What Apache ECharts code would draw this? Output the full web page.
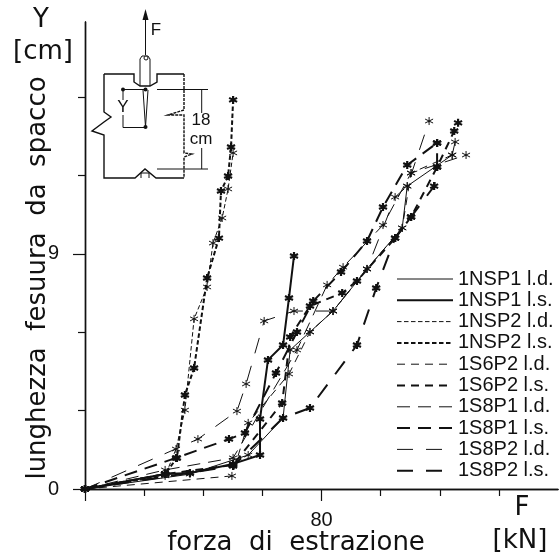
<!DOCTYPE html>
<html>
<head>
<meta charset="utf-8">
<style>
  html, body { margin: 0; padding: 0; background: #fff; }
  #chart { width: 560px; height: 556px; }
</style>
<script src="https://cdn.jsdelivr.net/npm/echarts@6/dist/echarts.min.js"></script>
</head>
<body>
<div id="chart"></div>
<script>
// [forza kN, Y cm]
const nsp1Ld = [[0,0],[35.5,0.57],[55.2,1.30],[67.0,2.72],[69.4,5.32],[76.1,6.01],[83.9,6.81],[95.4,8.42],[107.3,9.99],[109.0,11.59],[124.2,12.78],[125.2,13.28]];
const nsp1Ls = [[0,0],[27.1,0.57],[35.5,0.61],[50.1,0.96],[59.2,1.30],[59.2,2.68],[61.9,4.94],[67.0,5.51],[69.0,7.31],[70.7,8.92]];
const nsp2Ld = [[0,0],[27.1,0.50],[30.8,1.53],[33.8,3.02],[36.9,6.51],[41.3,7.73],[43.3,9.41],[46.4,10.37],[48.4,11.48],[50.1,12.86]];
const nsp2Ls = [[0,0],[27.1,0.57],[31.1,1.19],[33.8,3.60],[36.9,4.63],[41.3,8.07],[45.3,9.60],[46.0,11.40],[48.4,11.98],[49.4,13.09],[50.1,14.89]];
const s6p2Ld = [[0,0],[49.7,0.50],[55.2,2.53],[69.0,4.40],[76.1,6.01],[83.9,6.81],[95.4,8.42],[107.3,9.99],[110.3,12.09],[124.2,12.78]];
const s6p2Ls = [[0,0],[27.1,0.57],[50.1,0.92],[66.7,3.29],[69.4,5.82],[76.1,7.00],[87.0,7.50],[92.0,7.96],[104.9,9.60],[110.3,10.41],[119.1,12.32],[124.9,13.70],[126.2,14.01]];
const s8p1Ld = [[0,0],[27.1,0.73],[50.1,1.19],[71.7,5.32],[81.9,7.81],[87.3,8.49],[100.8,10.10],[110.3,12.09],[128.9,12.78]];
const s8p1Ls = [[0,0],[30.8,1.19],[48.7,1.91],[54.1,2.14],[64.6,4.44],[71.7,6.01],[77.2,7.19],[86.6,8.30],[95.4,9.49],[100.8,10.79],[109.0,12.40],[119.1,13.24]];
const s8p2Ld = [[0,0],[38.2,1.91],[51.4,2.98],[54.5,4.02],[60.6,6.43],[70.7,6.81],[83.9,6.81],[95.4,8.42],[104.9,11.17],[109.0,11.59],[116.4,14.08]];
const s8p2Ls = [[0,0],[50.1,0.88],[67.0,2.72],[76.1,3.10],[92.0,5.51],[98.5,7.69],[104.9,9.60],[110.3,10.41],[118.1,11.59],[119.1,12.32],[119.1,13.24]];

const xMajor = [0, 80];
const xMinor = [20, 40, 60, 100, 120, 140];
const yMajor = [0, 9];
const yMinor = [3, 6, 12, 15];

const INK = '#111';
const STAR = 'path://M0 -5L0 5M-4.33 -2.5L4.33 2.5M-4.33 2.5L4.33 -2.5';

function line(name, data, width, dash) {
  return {
    name: name,
    type: 'line',
    data: data,
    symbol: STAR,
    symbolSize: 8,
    showAllSymbol: true,
    animation: false,
    lineStyle: { color: INK, width: width, type: dash },
    itemStyle: { color: 'none', borderColor: INK, borderWidth: width > 1.5 ? 2.2 : 1 }
  };
}

const series = [
  line('1NSP1 l.d.', nsp1Ld, 1, 'solid'),
  line('1NSP1 l.s.', nsp1Ls, 2, 'solid'),
  line('1NSP2 l.d.', nsp2Ld, 1, [4.5, 2.5]),
  line('1NSP2 l.s.', nsp2Ls, 2, [4.5, 2.5]),
  line('1S6P2 l.d.', s6p2Ld, 1, [8, 6]),
  line('1S6P2 l.s.', s6p2Ls, 2, [8, 6]),
  line('1S8P1 l.d.', s8p1Ld, 1, [13, 8]),
  line('1S8P1 l.s.', s8p1Ls, 2, [13, 8]),
  line('1S8P2 l.d.', s8p2Ld, 1, [16, 13]),
  line('1S8P2 l.s.', s8p2Ls, 2, [16, 13])
];

// legend "auto" width draws everything at 2px, so give each row its own
const legendData = series.map(function (s) {
  return { name: s.name, lineStyle: { width: s.lineStyle.width, type: s.lineStyle.type, color: INK } };
});

// inset sketch of the specimen, plain drawing in page pixels
function seg(points, width, dash) {
  return {
    type: 'polyline',
    silent: true,
    shape: { points: points },
    style: { stroke: INK, fill: 'none', lineWidth: width, lineDash: dash || null }
  };
}
function dot(x, y) {
  return { type: 'circle', silent: true, shape: { cx: x, cy: y, r: 2 }, style: { fill: INK } };
}
function label(text, x, y, font, rotation) {
  return {
    type: 'text',
    silent: true,
    x: x,
    y: y,
    rotation: rotation || 0,
    style: { text: text, font: font, fill: INK, align: 'center', verticalAlign: 'middle' }
  };
}

const TITLE_FONT = '26px "DejaVu Sans"';
const SMALL_FONT = '17px "Liberation Sans"';

const sketch = [
  seg([[145.5, 55], [145.5, 18]], 1),
  { type: 'polygon', silent: true, shape: { points: [[145.5, 9], [142.5, 20], [148.5, 20]] }, style: { fill: INK } },
  seg([[104, 74], [134, 74], [134, 82], [140, 86], [150, 86], [157, 82], [157, 74], [184, 74]], 1.4),
  seg([[104, 74], [104, 112], [111, 117], [104, 122], [92, 131], [104, 135], [104, 178], [135, 178], [145, 169], [156, 178], [184, 178]], 1.4),
  seg([[141, 178], [141, 173], [149, 173], [149, 178]], 1),
  seg([[184, 74], [184, 110], [168, 115], [184, 115], [184, 153], [192, 154], [184, 157], [184, 178]], 1.4, [3, 1]),
  seg([[140, 86], [140, 59], [142, 56], [148, 56], [150, 59], [150, 86]], 1),
  seg([[143, 90], [145.5, 127], [148, 90]], 1),
  seg([[123, 89.5], [145.5, 89.5]], 1),
  seg([[123, 89.5], [123, 100]], 1),
  seg([[123, 115], [123, 127.5], [145.5, 127.5]], 1),
  seg([[157, 89.5], [208, 89.5]], 1),
  seg([[157, 169], [208, 169]], 1),
  seg([[201.7, 89.5], [201.7, 113]], 1),
  seg([[201.7, 148], [201.7, 169]], 1),
  { type: 'circle', silent: true, shape: { cx: 146, cy: 58, r: 2 }, style: { fill: '#fff', stroke: INK, lineWidth: 1 } },
  dot(123, 89.5), dot(145.5, 89.5), dot(145.5, 127),
  label('F', 156, 30, SMALL_FONT),
  label('Y', 123, 107, SMALL_FONT),
  label('18', 201, 120, SMALL_FONT),
  label('cm', 201, 139, SMALL_FONT)
];

const titles = [
  label('Y', 41, 20, TITLE_FONT),
  label('[cm]', 43, 52, TITLE_FONT),
  label('lunghezza  fesuura  da  spacco', 38, 278, TITLE_FONT, Math.PI / 2),
  label('forza  di  estrazione', 296, 543, TITLE_FONT),
  label('F', 522, 508, TITLE_FONT),
  label('[kN]', 520, 541, TITLE_FONT)
];

function valueAxis(max) {
  return {
    type: 'value',
    min: 0,
    max: max,
    interval: 40,
    splitLine: { show: false },
    axisLine: { show: true, onZero: false, lineStyle: { color: INK, width: 1.4 } }
  };
}

const chart = echarts.init(document.getElementById('chart'));
chart.setOption({
  animation: false,
  backgroundColor: '#fff',
  textStyle: { fontFamily: 'Liberation Sans', color: INK },
  grid: { left: 85, right: 2, top: 22, bottom: 67 },
  xAxis: [
    Object.assign(valueAxis(160), {
      axisTick: { length: 12, customValues: xMajor, lineStyle: { color: INK, width: 1.2 } },
      axisLabel: { customValues: [80], margin: 21, fontSize: 20, color: INK, fontFamily: 'Liberation Sans' }
    }),
    Object.assign(valueAxis(160), {
      position: 'bottom',
      axisTick: { length: 7, customValues: xMinor, lineStyle: { color: INK, width: 1.2 } },
      axisLabel: { show: false }
    })
  ],
  yAxis: [
    Object.assign(valueAxis(17.87), {
      axisTick: { length: 12, customValues: yMajor, lineStyle: { color: INK, width: 1.2 } },
      axisLabel: { customValues: yMajor, margin: 26, fontSize: 20, color: INK, fontFamily: 'Liberation Sans' }
    }),
    Object.assign(valueAxis(17.87), {
      position: 'left',
      axisTick: { length: 7, customValues: yMinor, lineStyle: { color: INK, width: 1.2 } },
      axisLabel: { show: false }
    })
  ],
  legend: {
    orient: 'vertical',
    left: 396,
    top: 269,
    itemWidth: 56,
    itemHeight: 14,
    itemGap: 1.3,
    padding: 0,
    selectedMode: false,
    data: legendData,
    itemStyle: { opacity: 0 },
    textStyle: { fontSize: 20, lineHeight: 20, color: INK, fontFamily: 'Liberation Sans' }
  },
  graphic: sketch.concat(titles),
  series: series
});
</script>
</body>
</html>
